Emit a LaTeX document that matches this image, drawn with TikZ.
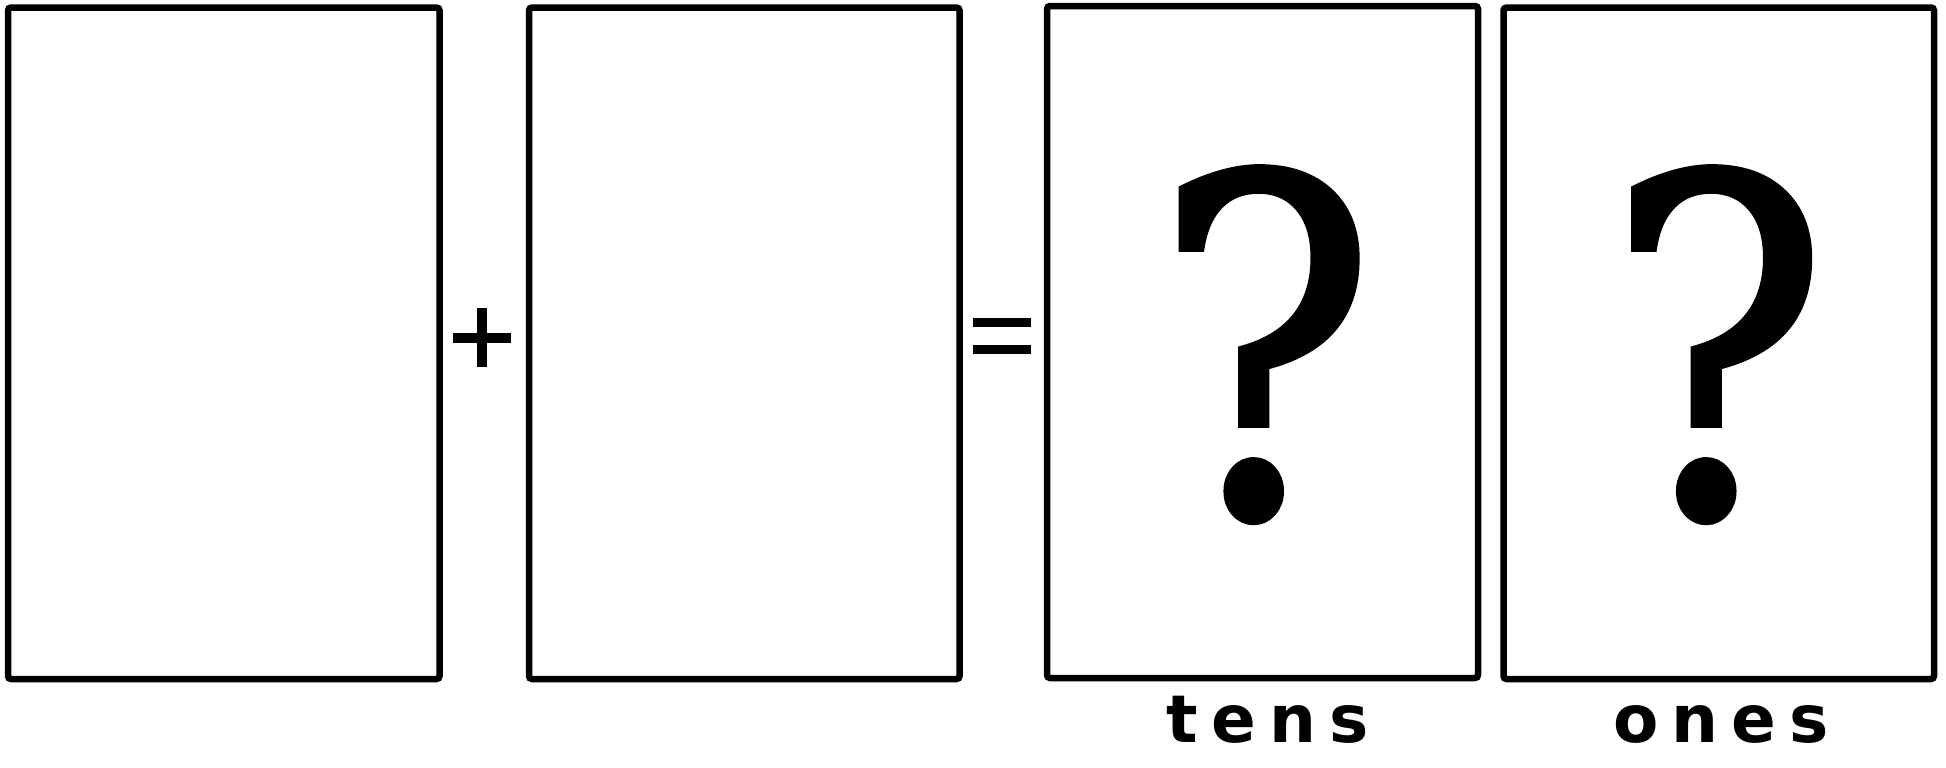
\documentclass[tikz,border=0pt]{standalone}
\usepackage{fontspec}
\newfontfamily\qfont{DejaVu Serif}[FakeBold=1.5]
\newfontfamily\lblfont{DejaVu Sans}[LetterSpace=20]
\newcommand{\narrowq}[1]{\scalebox{0.89}[1]{#1}}
\begin{document}
\begin{tikzpicture}[x=0.5pt,y=-0.5pt,
  card/.style={draw=black, line width=3.25pt, rounded corners=1.5pt, inner sep=0pt, outer sep=0pt, fill=white},
  opbar/.style={fill=black, draw=none},
  qmark/.style={inner sep=0pt, anchor=base, font={\qfont\fontsize{234pt}{234pt}\selectfont}},
  lbl/.style={inner sep=0pt, anchor=base, font={\lblfont\bfseries\fontsize{33pt}{33pt}\selectfont}}]
\useasboundingbox (0,0) rectangle (1946,767);
\fill[white] (0,0) rectangle (1946,767);
\node[card, minimum width=215.75pt, minimum height=335.75pt] (b1) at (223.75,343.25) {};
\node[card, minimum width=215.25pt, minimum height=335.75pt] (b2) at (744.25,343.25) {};
\node[card, minimum width=215.5pt, minimum height=336pt] (b3) at (1262.5,342) {};
\node[card, minimum width=215.25pt, minimum height=335.75pt] (b4) at (1718.75,343.25) {};
% plus
\fill[opbar] (477.3,308) rectangle (486.7,366.7);
\fill[opbar] (452.7,332.7) rectangle (510.7,342.7);
% equals
\fill[opbar] (972.7,318.3) rectangle (1030.7,326.7);
\fill[opbar] (972.7,345) rectangle (1030.7,354);
% question marks
\node[qmark] (q1) at (1265,515) {\narrowq{?}};
\node[qmark] (q2) at (1717.5,515) {\narrowq{?}};
% labels
\node[lbl] (tens) at (1267.5,742) {tens};
\node[lbl] (ones) at (1721,742) {ones};
\end{tikzpicture}
\end{document}
